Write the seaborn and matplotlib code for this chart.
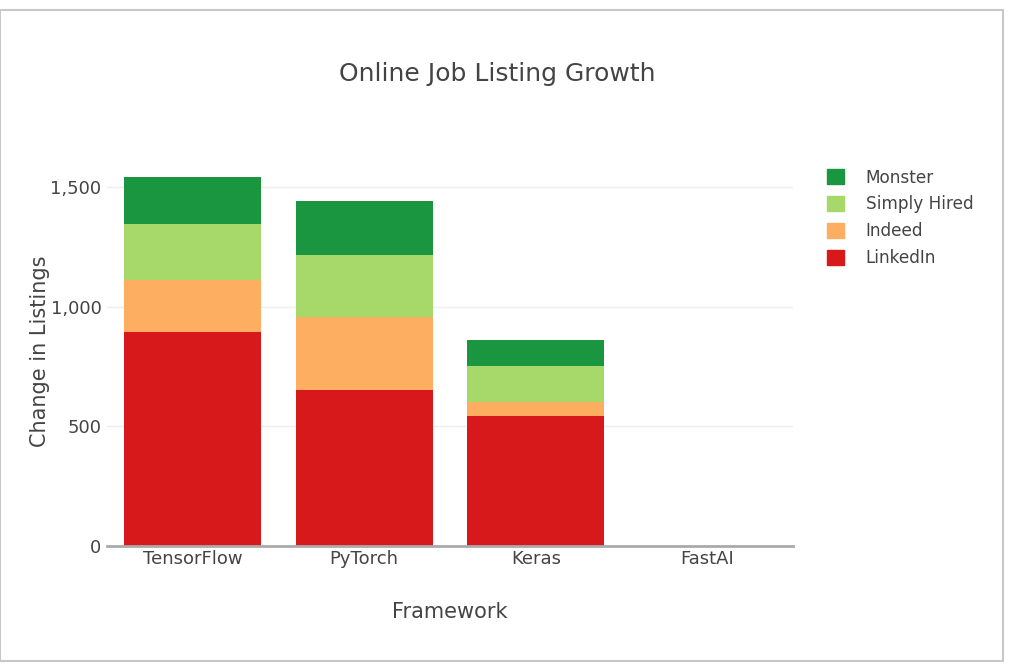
import seaborn as sns
import matplotlib.pyplot as plt
import matplotlib.patches as mpatches
import pandas as pd
import numpy as np

frameworks = ["TensorFlow", "PyTorch", "Keras", "FastAI"]
linkedin = [892, 650, 542, 0]
indeed = [220, 308, 59, 0]
simply_hired = [233, 259, 152, 0]
monster = [198, 223, 108, 0]

sources = ["LinkedIn", "Indeed", "Simply Hired", "Monster"]
colors = {"LinkedIn": "#d7191c", "Indeed": "#fdae61",
          "Simply Hired": "#a6d96a", "Monster": "#1a9641"}

df = pd.DataFrame({"Framework": frameworks, "LinkedIn": linkedin,
                   "Indeed": indeed, "Simply Hired": simply_hired,
                   "Monster": monster})
cum = df[sources].cumsum(axis=1)

sns.set_style("white")
plt.rcParams["font.family"] = ["DejaVu Sans"]
text_color = "#444444"

fig = plt.figure(figsize=(10.09, 6.64), dpi=100)
ax = fig.add_axes([0.106, 0.1777, 0.68, 0.5859])

# draw the tallest (cumulative) layer first, so lower layers sit on top
for src in reversed(sources):
    sns.barplot(x=df["Framework"], y=cum[src], color=colors[src],
                width=0.8, ax=ax, saturation=1, linewidth=0)

ax.set_ylim(0, 1625)
ax.set_yticks([0, 500, 1000, 1500])
ax.set_yticklabels(["0", "500", "1,000", "1,500"])
ax.yaxis.grid(True, color="#eeeeee", linewidth=1)
ax.set_axisbelow(True)
for s in ["top", "right", "left"]:
    ax.spines[s].set_visible(False)
ax.spines["bottom"].set_color("#aaaaaa")
ax.spines["bottom"].set_linewidth(2)
ax.tick_params(axis="both", length=0, labelsize=13, colors=text_color, pad=3)
ax.tick_params(axis="y", pad=4)

ax.set_xlabel("Framework", fontsize=15, color=text_color, labelpad=24)
ax.set_ylabel("Change in Listings", fontsize=15, color=text_color, labelpad=0)
fig.text(0.493, 0.888, "Online Job Listing Growth", ha="center", va="center",
         fontsize=18, color=text_color)

handles = [mpatches.Patch(color=colors[s], label=s) for s in reversed(sources)]
fig.legend(handles=handles, loc="upper left", bbox_to_anchor=(0.805, 0.769),
           frameon=False, fontsize=12.2, labelcolor=text_color,
           handlelength=1.0, handleheight=1.0, handletextpad=1.25,
           labelspacing=0.52)

# outer frame of the screenshot
fig.patches.append(mpatches.Rectangle((0.0, 0.005), 0.994, 0.98, transform=fig.transFigure,
                                      fill=False, edgecolor="#c8c8c8", linewidth=1.5))

fig.savefig("out.png", dpi=100)
